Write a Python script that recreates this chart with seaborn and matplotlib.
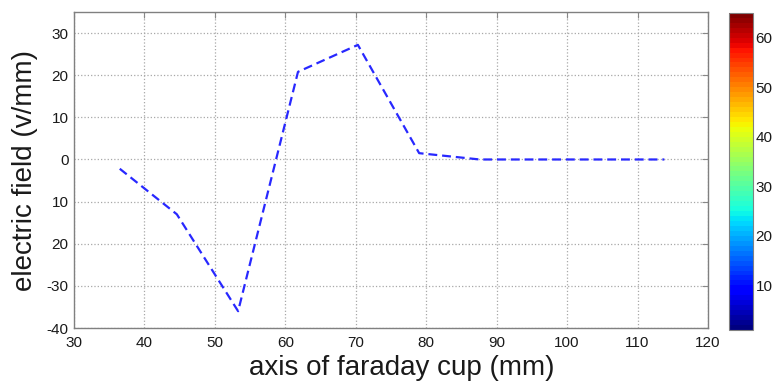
import numpy as np
import pandas as pd
import matplotlib
matplotlib.use('Agg')
import matplotlib.pyplot as plt
import seaborn as sns

# データ
axis_mm = [36.5, 44.6, 53.3, 61.8, 70.3, 79.0, 87.6, 96.3, 105.0, 113.8]
field = [-2.2, -13.0, -36.0, 20.8, 27.2, 1.5, 0.0, 0.0, 0.0, 0.0]
y_ticks = [-40, -30, -20, -10, 0, 10, 20, 30]
y_tick_labels = ['-40', '-30', '20', '10', '0', '10', '20', '30']
x_ticks = [30, 40, 50, 60, 70, 80, 90, 100, 110, 120]
cbar_ticks = [10, 20, 30, 40, 50, 60]

df = pd.DataFrame({'axis': axis_mm, 'field': field})

sns.set_style('white')
plt.rcParams['font.family'] = ['Liberation Sans', 'DejaVu Sans']

fig = plt.figure(figsize=(7.77, 3.81), dpi=100)
ax = fig.add_axes([0.0952, 0.139, 0.816, 0.8295])

sns.lineplot(data=df, x='axis', y='field', ax=ax, color='#2828ff',
             linewidth=1.6, sort=False)
ax.lines[0].set_dashes([4, 2.2])

ax.set_xlim(30, 120)
ax.set_ylim(-40, 35)
ax.set_xticks(x_ticks)
ax.set_yticks(y_ticks)
ax.set_yticklabels(y_tick_labels)
ax.grid(True, linestyle=':', color='#a8a8a8', linewidth=0.9)
ax.tick_params(direction='in', top=True, right=True, length=4, width=0.8,
               color='#888888', labelsize=11, labelcolor='#1a1a1a')
ax.tick_params(axis='x', pad=6)
ax.tick_params(axis='y', pad=4)
for s in ax.spines.values():
    s.set_color('#808080')
    s.set_linewidth(1.0)

ax.set_xlabel('axis of faraday cup (mm)', fontsize=20, color='#1a1a1a', labelpad=2)
ax.xaxis.set_label_coords(0.517, -0.085, transform=ax.transAxes)
ax.xaxis.label.set_va('top')
ax.set_ylabel('electric field (v/mm)', fontsize=20, color='#1a1a1a', labelpad=6)

# カラーバー (jet)
cax = fig.add_axes([0.938, 0.134, 0.031, 0.832])
norm = matplotlib.colors.Normalize(vmin=1, vmax=65)
sm = matplotlib.cm.ScalarMappable(norm=norm, cmap=plt.get_cmap('jet', 64))
cb = fig.colorbar(sm, cax=cax)
cb.set_ticks(cbar_ticks)
cb.ax.tick_params(direction='in', length=3, width=0.8, color='#666666',
                  labelsize=11, labelcolor='#1a1a1a', pad=2)
cb.outline.set_edgecolor('#808080')

fig.savefig('out.png', dpi=100)
